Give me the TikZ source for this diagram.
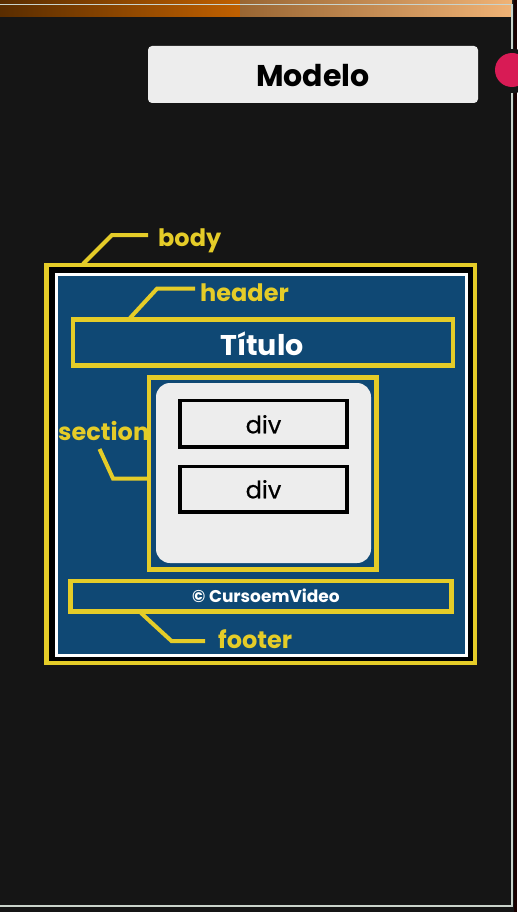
\documentclass[tikz,border=0pt]{standalone}
\usepackage{fontspec}
\setmainfont{Poppins}
\newfontfamily\popmed{Poppins}[FakeBold=0.5]
\definecolor{bg}{HTML}{151515}
\definecolor{ylw}{HTML}{E5CC28}
\definecolor{blu}{HTML}{0F4874}
\definecolor{pale}{HTML}{EDEDED}
\definecolor{framec}{HTML}{C9D3CB}
\definecolor{redc}{HTML}{D81B55}
\begin{document}
\begin{tikzpicture}[x=1pt,y=-1pt,
  box/.style={rectangle,inner sep=0pt,anchor=center},
  ybox/.style={box,draw=ylw,line width=4.5pt},
  lead/.style={draw=ylw,line width=4pt,line join=miter},
  lbl/.style={text=ylw,font=\bfseries\fontsize{24}{24}\selectfont,anchor=base west,inner sep=0pt},
  divbox/.style={box,draw=black,fill=pale,line width=3.5pt,minimum width=167pt},
  divtxt/.style={anchor=base,inner sep=0pt,font=\popmed\fontsize{24}{24}\selectfont,text=black},
]
\useasboundingbox (0,0) rectangle (517,912);
\fill[bg] (0,0) rectangle (517,912);
\fill[black!90!red] (513.5,0) rectangle (517,912);
% top strip
\shade[left color=orange!35!black,right color=orange!75!black] (0,0) rectangle (240,17);
\shade[left color=brown!80!black,right color=brown!40!orange!60!white] (240,0) rectangle (512,17);
% frame
\draw[framec,line width=1.5pt] (0,4.5) -- (512,4.5) -- (512,906) -- (0,906);
% red dot
\fill[bg] (513,71) circle (22pt);
\fill[redc] (512,70) circle (17pt);

% title box
\node[box,fill=pale,rounded corners=4pt,minimum width=330pt,minimum height=57pt] (modelo) at (313,74.5) {};
\node[anchor=base,inner sep=0pt,font=\bfseries\fontsize{30}{30}\selectfont] (modelotxt) at (313,86.7) {Modelo};

% body
\node[ybox,fill=black,minimum width=428.5pt,minimum height=398pt] (body) at (260.75,464) {};
\node[box,draw=white,line width=3pt,fill=blu,minimum width=410pt,minimum height=381pt] (page) at (261,464.5) {};

% header
\node[ybox,fill=blu,minimum width=380pt,minimum height=46pt] (header) at (263,342.5) {};
\node[anchor=base,inner sep=0pt,text=white,font=\bfseries\fontsize{28.5}{28.5}\selectfont] (titulo) at (262,355) {Título};

% section
\node[ybox,fill=blu,minimum width=227.5pt,minimum height=192pt] (section) at (262.75,473.5) {};
\node[box,fill=pale,rounded corners=14pt,minimum width=215pt,minimum height=180pt] (sectin) at (263.5,473) {};
\node[divbox,minimum height=46.5pt] (div1) at (263.5,423.75) {};
\node[divtxt] (div1txt) at (263.5,433.3) {div};
\node[divbox,minimum height=45.5pt] (div2) at (263.5,489.25) {};
\node[divtxt] (div2txt) at (263.5,498.3) {div};

% footer
\node[ybox,fill=blu,minimum width=381pt,minimum height=30.5pt] (footer) at (261,596.25) {};
\node[anchor=base,inner sep=0pt,text=white,font=\bfseries\fontsize{17}{17}\selectfont] (copy) at (266,602.7) {© CursoemVideo};

% labels
\node[lbl] (bodylbl) at (158,246) {body};
\node[lbl] (headerlbl) at (200,301.5) {header};
\node[lbl] (sectionlbl) at (58,440) {section};
\node[lbl] (footerlbl) at (218,648.3) {footer};

% leaders
\coordinate (b1) at (83,264);
\coordinate (b2) at (112,235);
\coordinate (b3) at (148,235);
\draw[lead] (b1) -- (b2) -- (b3);
\coordinate (h1) at (130,318);
\coordinate (h2) at (157,288.7);
\coordinate (h3) at (195,288.7);
\draw[lead] (h1) -- (h2) -- (h3);
\coordinate (s1) at (99.5,449);
\coordinate (s2) at (113,478.5);
\coordinate (s3) at (149,478.5);
\draw[lead] (s1) -- (s2) -- (s3);
\coordinate (f1) at (141,613);
\coordinate (f2) at (171.5,641);
\coordinate (f3) at (205,641);
\draw[lead] (f1) -- (f2) -- (f3);
\end{tikzpicture}
\end{document}
